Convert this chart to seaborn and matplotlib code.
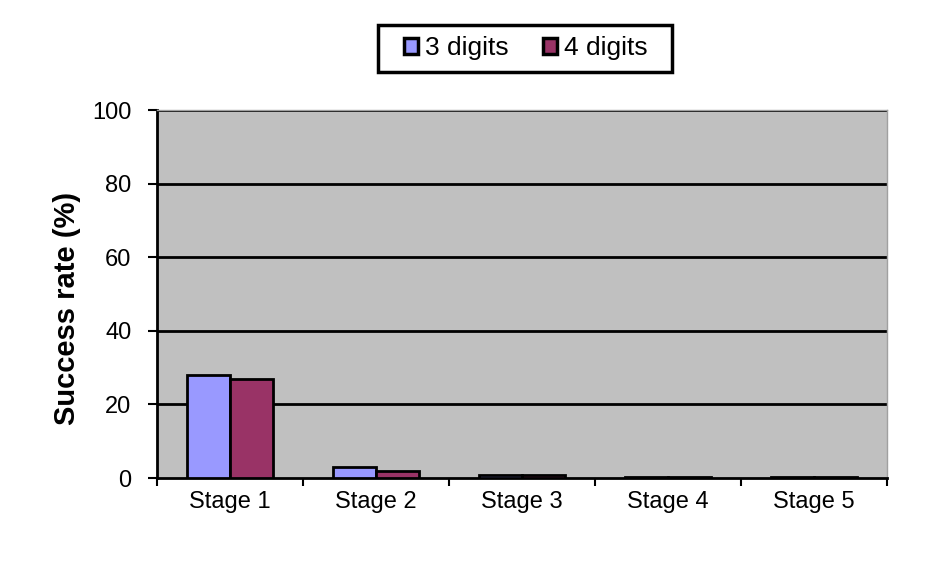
import matplotlib
matplotlib.use("Agg")
import matplotlib.pyplot as plt
import seaborn as sns
import pandas as pd
import numpy as np
from matplotlib.ticker import FixedLocator
from matplotlib.patches import Rectangle

stages = ["Stage 1", "Stage 2", "Stage 3", "Stage 4", "Stage 5"]
three_digits = [28, 3, 0.8, 0.3, 0.3]
four_digits = [27, 2, 0.8, 0.3, 0.3]
series = ["3 digits", "4 digits"]
colors = ["#9999FF", "#993366"]
yticks = [0, 20, 40, 60, 80, 100]

df = pd.DataFrame({
    "Stage": stages * 2,
    "Series": [series[0]] * len(stages) + [series[1]] * len(stages),
    "Value": three_digits + four_digits,
})

sns.set_theme(style="white")
plt.rcParams['font.family'] = ['Liberation Sans', 'DejaVu Sans']
plt.rcParams['text.color'] = 'black'
plt.rcParams['axes.labelcolor'] = 'black'
plt.rcParams['xtick.color'] = 'black'
plt.rcParams['ytick.color'] = 'black'

fig = plt.figure(figsize=(9.25, 5.76), dpi=100)
ax = fig.add_axes([0.170, 0.170, 0.789, 0.639])

sns.barplot(data=df, x="Stage", y="Value", hue="Series", palette=colors,
            saturation=1, width=0.59, edgecolor="black", linewidth=2, ax=ax,
            zorder=3, errorbar=None)

ax.set_facecolor("#C0C0C0")
ax.set_ylim(0, 100)
ax.set_xlim(-0.5, len(stages) - 0.5)
ax.set_yticks(yticks)
ax.set_yticklabels([str(t) for t in yticks], fontsize=17, color="black")
for t in yticks[1:]:
    ax.axhline(t, color="black", linewidth=2, zorder=1)

ax.tick_params(axis="x", which="major", length=0, labelsize=17, pad=9, labelcolor="black")
ax.xaxis.set_minor_locator(FixedLocator(np.arange(-0.5, len(stages), 1.0)))
ax.tick_params(axis="x", which="minor", length=6, width=1.5, color="black", direction="out", bottom=True)
ax.tick_params(axis="y", length=6.5, width=1.5, color="black", direction="out", left=True, pad=12)

ax.set_xlabel("")
ax.set_ylabel("Success rate (%)", fontsize=21, fontweight="bold", color="black")
ax.yaxis.set_label_coords(-0.105, 0.46)

for s in ["left", "bottom"]:
    ax.spines[s].set_color("black")
    ax.spines[s].set_linewidth(2)
for s in ["top", "right"]:
    ax.spines[s].set_color("#A0A0A0")
    ax.spines[s].set_linewidth(1)

ax.legend_.remove()
handles = [plt.Rectangle((0, 0), 1, 1, facecolor=c, edgecolor="black", linewidth=2.5) for c in colors]
leg = fig.legend(handles, series, loc="center", bbox_to_anchor=(0.568, 0.916), ncol=2,
                 frameon=False, fontsize=19, handlelength=0.55, handleheight=0.55,
                 handletextpad=0.25, columnspacing=1.3, borderpad=0.4)
box = Rectangle((378 / 925, 1 - 72 / 576), (672 - 378) / 925, (72 - 25) / 576,
                transform=fig.transFigure, facecolor="white", edgecolor="black",
                linewidth=2.5, zorder=0)
fig.patches.append(box)

fig.savefig("out.png", dpi=100, facecolor="white")
